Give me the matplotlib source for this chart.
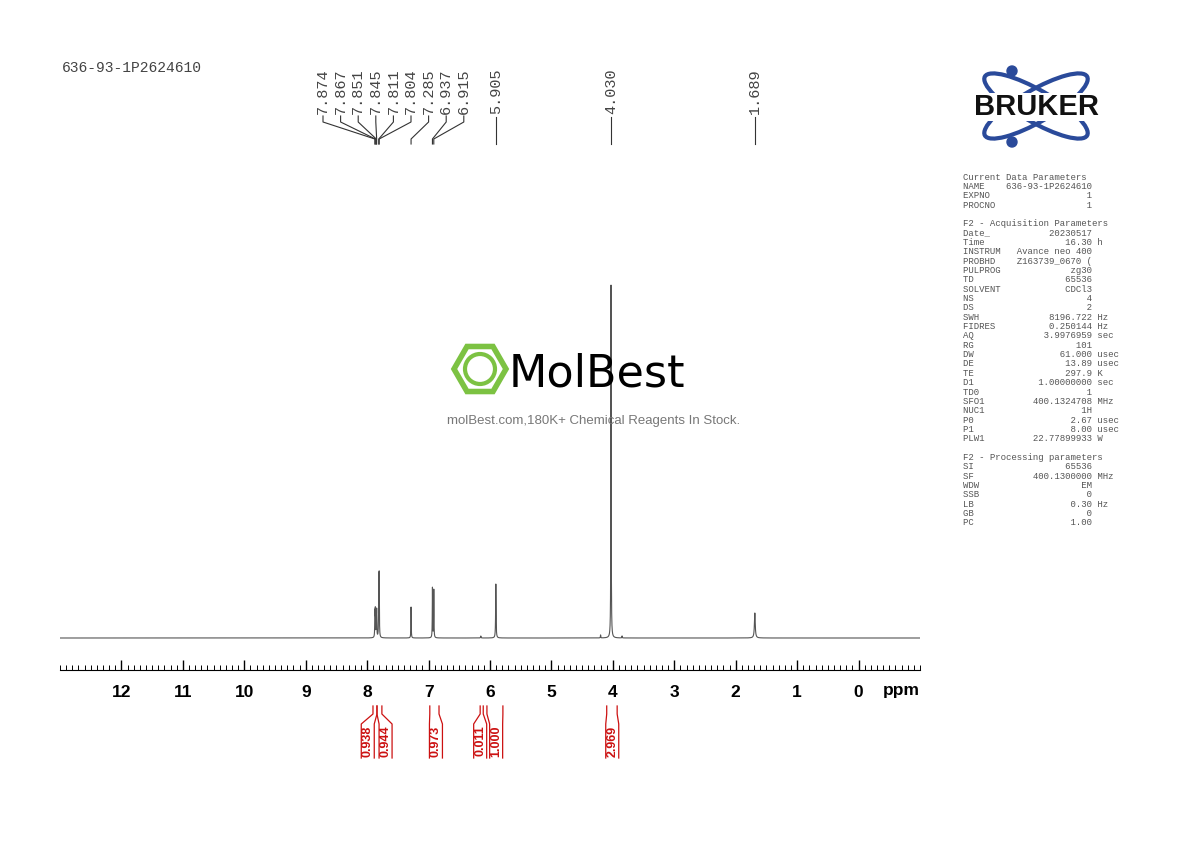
import numpy as np
import matplotlib.pyplot as plt
from matplotlib.patches import Ellipse, RegularPolygon, Circle

# peak list: ppm, height (arbitrary), half width (ppm)
peak_ppm = [7.874, 7.867, 7.851, 7.845, 7.811, 7.804, 7.285, 6.937, 6.915,
            5.905, 4.030, 1.689, 6.15, 4.20, 3.85]
peak_h = [24, 26, 22, 24, 56, 58, 31, 50, 48, 54, 353, 25, 2, 3, 2]
peak_w = [0.003, 0.003, 0.003, 0.003, 0.003, 0.003, 0.003, 0.003, 0.003,
          0.004, 0.003, 0.008, 0.004, 0.003, 0.003]

label_vals = ["7.874", "7.867", "7.851", "7.845", "7.811", "7.804", "7.285", "6.937", "6.915"]
single_labels = ["5.905", "4.030", "1.689"]

integ_start = [7.905, 7.84, 6.98, 6.16, 6.05, 4.10]
integ_end = [7.84, 7.76, 6.83, 6.11, 5.79, 3.93]
integ_vals = ["0.938", "0.944", "0.973", "0.011", "1.000", "2.969"]
integ_label_at = [7.99, 7.70, 6.88, 6.16, 5.90, 4.01]

params = [
    ("Current Data Parameters", None, None),
    ("NAME", "636-93-1P2624610", ""),
    ("EXPNO", "1", ""),
    ("PROCNO", "1", ""),
    ("", None, None),
    ("F2 - Acquisition Parameters", None, None),
    ("Date_", "20230517", ""),
    ("Time", "16.30", "h"),
    ("INSTRUM", "Avance neo 400", ""),
    ("PROBHD", "Z163739_0670 (", ""),
    ("PULPROG", "zg30", ""),
    ("TD", "65536", ""),
    ("SOLVENT", "CDCl3", ""),
    ("NS", "4", ""),
    ("DS", "2", ""),
    ("SWH", "8196.722", "Hz"),
    ("FIDRES", "0.250144", "Hz"),
    ("AQ", "3.9976959", "sec"),
    ("RG", "101", ""),
    ("DW", "61.000", "usec"),
    ("DE", "13.89", "usec"),
    ("TE", "297.9", "K"),
    ("D1", "1.00000000", "sec"),
    ("TD0", "1", ""),
    ("SFO1", "400.1324708", "MHz"),
    ("NUC1", "1H", ""),
    ("P0", "2.67", "usec"),
    ("P1", "8.00", "usec"),
    ("PLW1", "22.77899933", "W"),
    ("", None, None),
    ("F2 - Processing parameters", None, None),
    ("SI", "65536", ""),
    ("SF", "400.1300000", "MHz"),
    ("WDW", "EM", ""),
    ("SSB", "0", ""),
    ("LB", "0.30", "Hz"),
    ("GB", "0", ""),
    ("PC", "1.00", ""),
]

W, H = 1190, 842
fig = plt.figure(figsize=(11.9, 8.42), dpi=100)
L, R = 60 / W, 920 / W

# spectrum axes (y in pixel-height units above baseline)
ax = fig.add_axes([L, 1 - 670 / H, R - L, 610 / H])
x = np.linspace(13, -1, 60000)
y = np.zeros_like(x)
for p, h, w in zip(peak_ppm, peak_h, peak_w):
    y += h / (1 + ((x - p) / w) ** 2)
ax.plot(x, y, color="#555555", lw=0.8)
ax.set_xlim(13, -1)
ax.set_ylim(-32, 578)
for s in ["top", "left", "right"]:
    ax.spines[s].set_visible(False)
ax.spines["bottom"].set_color("black")
ax.set_yticks([])
ax.set_xticks(range(0, 13))
ax.set_xticks(np.arange(-1, 13.01, 0.1), minor=True)
ax.tick_params(axis="x", which="major", direction="in", length=7, width=1,
               labelsize=12.5, pad=11)
ax.tick_params(axis="x", which="minor", direction="in", length=3.5, width=0.7)
for t in ax.get_xticklabels():
    t.set_fontweight("bold")
    t.set_family("Liberation Sans")
ax.patch.set_alpha(0)

# overlay axes: x in ppm, y in figure pixels (top = 0)
ov = fig.add_axes([L, 0, R - L, 1])
ov.set_xlim(13, -1)
ov.set_ylim(H, 0)
ov.axis("off")
ov.patch.set_alpha(0)
ppm_per_px = 14 / 860

ov.text(-0.7, 691, "ppm", fontsize=12.5, fontweight="bold", family="Liberation Sans",
        ha="center", va="center")

mono = "Liberation Mono"
col = "#444444"
# grouped peak labels
slot0 = 13 - (323 - 60) * ppm_per_px
spacing = 17.6 * ppm_per_px
for i, lab in enumerate(label_vals):
    sx = slot0 - i * spacing
    px = float(lab)
    ov.text(sx, 114, lab, rotation=90, fontsize=11, family=mono, color=col,
            ha="center", va="bottom")
    ov.plot([sx, sx, px, px], [116, 122, 139, 144], color="#333333", lw=0.8)
for lab in single_labels:
    px = float(lab)
    ov.text(px, 114, lab, rotation=90, fontsize=11, family=mono, color=col,
            ha="center", va="bottom")
    ov.plot([px, px], [117, 144], color="#333333", lw=0.8)

# integrals
red = "#cc1111"
hw = 6.5 * ppm_per_px
for a, b, v, c in zip(integ_start, integ_end, integ_vals, integ_label_at):
    ov.plot([a, a, c + hw, c + hw], [706, 714, 724, 758], color=red, lw=0.9)
    ov.plot([b, b, c - hw, c - hw], [706, 714, 724, 758], color=red, lw=0.9)
    ov.text(c, 741, v, rotation=90, color=red, fontsize=9, fontweight="bold",
            family="Liberation Sans", ha="center", va="center")

ov.text(13 - 2 * ppm_per_px, 68, "636-93-1P2624610", fontsize=10.5, family=mono,
        color=col, ha="left", va="center")

# free-drawing overlay for logos and parameter block
fx = fig.add_axes([0, 0, 1, 1])
fx.set_xlim(0, W)
fx.set_ylim(H, 0)
fx.axis("off")
fx.patch.set_alpha(0)

# MolBest watermark
green = "#7cc242"
fx.add_patch(RegularPolygon((480, 369), 6, radius=26, orientation=np.pi / 6,
                            fill=False, ec=green, lw=4))
fx.add_patch(Circle((480, 369), 15, fill=False, ec=green, lw=3))
fx.text(509, 374, "MolBest", fontsize=32, color="black", ha="left", va="center")
fx.text(594, 421, "molBest.com,180K+ Chemical Reagents In Stock.", fontsize=9.5,
        family="Liberation Sans", color="#777777", ha="center", va="center")

# Bruker logo
blue = "#2a4a9a"
fx.add_patch(Ellipse((1036, 106), 118, 32, angle=30, fill=False, ec=blue, lw=3))
fx.add_patch(Ellipse((1036, 106), 118, 32, angle=-30, fill=False, ec=blue, lw=3))
fx.add_patch(Circle((1012, 71), 5, color=blue))
fx.add_patch(Circle((1012, 142), 5, color=blue))
fx.text(1036, 107, "BRUKER", fontsize=21, fontweight="bold", color="#111111",
        family="Liberation Sans", ha="center", va="center",
        bbox=dict(fc="white", ec="none", pad=0.3))

# parameter block
ytop = 177
for i, (name, val, unit) in enumerate(params):
    if val is None:
        line = name
    else:
        line = f"{name:<8}{val:>16} {unit}"
    fx.text(963, ytop + i * 9.35, line, fontsize=6.5, family=mono, color="#555555",
            ha="left", va="center")

fig.savefig("out.png", dpi=100)
